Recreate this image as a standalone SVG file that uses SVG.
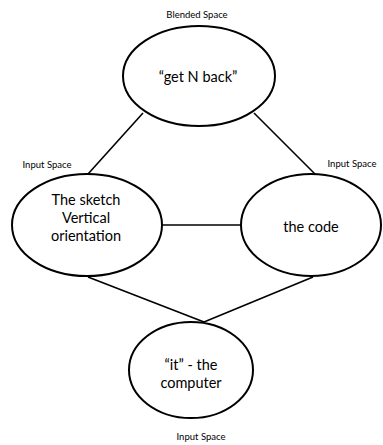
<svg xmlns="http://www.w3.org/2000/svg" width="383" height="445" viewBox="0 0 383 445">
  <style>
    .node { fill: #ffffff; stroke: #000000; stroke-width: 2; }
    .link { stroke: #000000; stroke-width: 1.6; fill: none; }
    .label { font-family: Lato, "Open Sans", "Liberation Sans", sans-serif; font-size: 9.5px; fill: #000000; text-anchor: middle; }
    .body { font-family: Lato, "Open Sans", "Liberation Sans", sans-serif; font-size: 14.5px; fill: #000000; text-anchor: middle; }
  </style>
  <rect width="383" height="445" fill="#ffffff"/>
  <g id="connectors">
    <line class="link" x1="143" y1="113" x2="88" y2="174"/>
    <line class="link" x1="254" y1="113" x2="315" y2="174"/>
    <line class="link" x1="162" y1="225" x2="241" y2="225"/>
    <line class="link" x1="88" y1="277" x2="204" y2="322"/>
    <line class="link" x1="313" y1="277" x2="204" y2="322"/>
  </g>
  <g id="blended">
    <text class="label" x="197" y="18">Blended Space</text>
    <ellipse class="node" cx="199" cy="76" rx="76" ry="50"/>
    <text class="body" x="198" y="82">“get N back”</text>
  </g>
  <g id="input-sketch">
    <text class="label" x="47" y="168">Input Space</text>
    <ellipse class="node" cx="87" cy="225" rx="75" ry="51"/>
    <text class="body" x="86" y="205">The sketch</text>
    <text class="body" x="86" y="223">Vertical</text>
    <text class="body" x="86" y="241">orientation</text>
  </g>
  <g id="input-code">
    <text class="label" x="352" y="167">Input Space</text>
    <ellipse class="node" cx="311" cy="225" rx="70" ry="51"/>
    <text class="body" x="311" y="232">the code</text>
  </g>
  <g id="input-computer">
    <ellipse class="node" cx="191" cy="370" rx="62" ry="48"/>
    <text class="body" x="191" y="370">“it” - the</text>
    <text class="body" x="191" y="388">computer</text>
    <text class="label" x="201" y="440">Input Space</text>
  </g>
</svg>
